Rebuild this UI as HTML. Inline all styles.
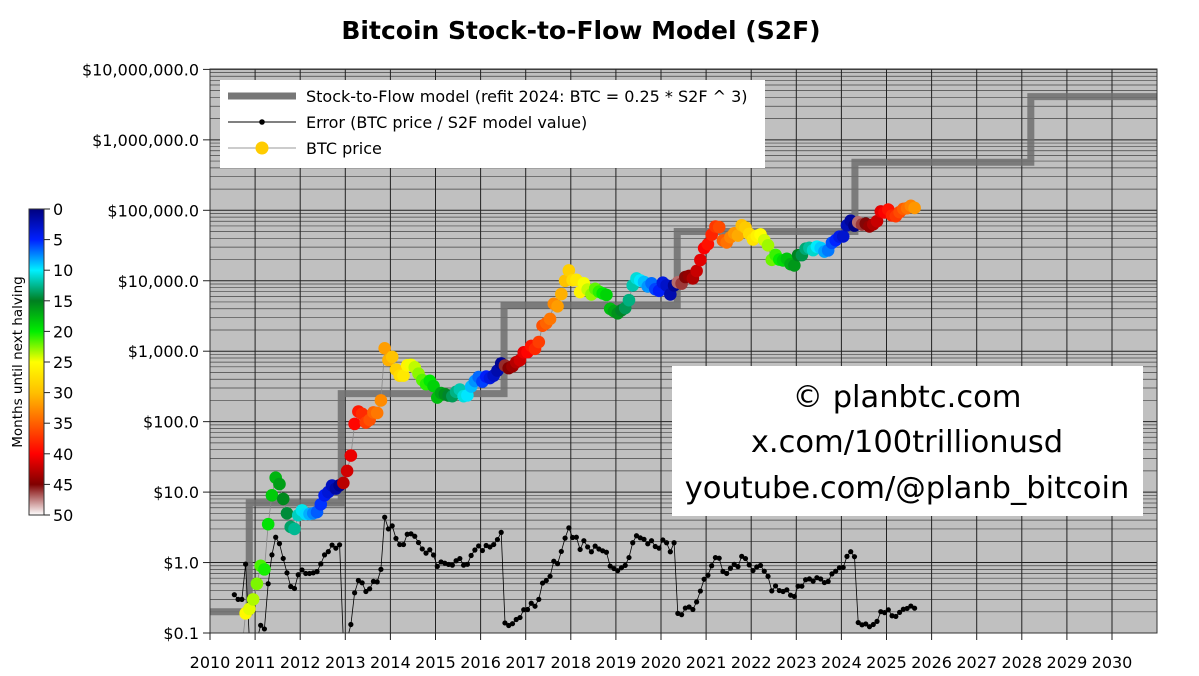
<!DOCTYPE html>
<html><head><meta charset="utf-8"><style>
html,body{margin:0;padding:0;background:#fff;}
svg{display:block;font-family:"DejaVu Sans","Liberation Sans",sans-serif;}
</style></head><body>
<svg id="s" width="1199" height="676" viewBox="0 0 1199 676" xmlns="http://www.w3.org/2000/svg">
<defs>
<linearGradient id="cb" x1="0" y1="0" x2="0" y2="1">
<stop offset="0" stop-color="#00007f"/>
<stop offset="0.1" stop-color="#0020ff"/>
<stop offset="0.2" stop-color="#00f0ff"/>
<stop offset="0.3" stop-color="#007f20"/>
<stop offset="0.4" stop-color="#00ee00"/>
<stop offset="0.5" stop-color="#ffff00"/>
<stop offset="0.6" stop-color="#ffc000"/>
<stop offset="0.7" stop-color="#ff6000"/>
<stop offset="0.8" stop-color="#ff0000"/>
<stop offset="0.9" stop-color="#800000"/>
<stop offset="1" stop-color="#ffffff"/>
</linearGradient>
</defs>
<text x="581" y="39" text-anchor="middle" font-size="25" font-weight="bold">Bitcoin Stock-to-Flow Model (S2F)</text>
<rect x="210" y="69" width="947" height="564" fill="#c0c0c0"/>
<g id="grid"></g>
<g id="model"></g>
<g id="data"></g>
<rect x="210" y="69" width="947" height="564" fill="none" stroke="#333" stroke-width="1"/>
<g id="axes" font-size="16"></g>
<rect x="220" y="80" width="545" height="88" fill="#fff"/>
<line x1="228" y1="96" x2="296" y2="96" stroke="#777" stroke-width="7"/>
<text x="306" y="102" font-size="16">Stock-to-Flow model (refit 2024:  BTC = 0.25 * S2F ^ 3)</text>
<line x1="228" y1="122" x2="296" y2="122" stroke="#000" stroke-width="1"/>
<circle cx="262" cy="122" r="2.8" fill="#000"/>
<text x="306" y="128" font-size="16">Error (BTC price / S2F model value)</text>
<line x1="228" y1="148" x2="296" y2="148" stroke="#999" stroke-width="1"/>
<circle cx="262" cy="148" r="6.5" fill="#ffcc00"/>
<text x="306" y="154" font-size="16">BTC price</text>
<rect x="672" y="366" width="471" height="150" fill="#fff"/>
<text x="907" y="407" text-anchor="middle" font-size="30.5">© planbtc.com</text>
<text x="907" y="452" text-anchor="middle" font-size="30.5">x.com/100trillionusd</text>
<text x="907" y="498" text-anchor="middle" font-size="30.5">youtube.com/@planb_bitcoin</text>
<rect x="29" y="209" width="15" height="306" fill="url(#cb)" stroke="#333" stroke-width="1"/>
<g id="cbt" font-size="16"></g>
<text transform="translate(22,362) rotate(-90)" text-anchor="middle" font-size="13.5">Months until next halving</text>
</svg>
<script>
var NS="http://www.w3.org/2000/svg";
function el(p,t,a,txt){var e=document.createElementNS(NS,t);for(var k in a)e.setAttribute(k,a[k]);if(txt!=null)e.textContent=txt;document.getElementById(p).appendChild(e);return e;}
function X(t){return 210+45.1*(t-2010);}
function Y(v){return 633-70.45*(Math.log10(v)+1);}
for(var d=-1;d<7;d++){for(var k=2;k<10;k++){var y=Y(k*Math.pow(10,d));el("grid","line",{x1:210,x2:1157,y1:y,y2:y,stroke:"#444","stroke-width":0.7});}}
for(var d=-1;d<=7;d++){var y=Y(Math.pow(10,d));el("grid","line",{x1:210,x2:1157,y1:y,y2:y,stroke:"#222","stroke-width":1});}
for(var yr=2010;yr<=2030;yr++){var x=X(yr);el("grid","line",{x1:x,x2:x,y1:69,y2:633,stroke:"#222","stroke-width":1});
el("axes","line",{x1:x,x2:x,y1:633,y2:640,stroke:"#222"});el("axes","text",{x:x,y:668,"text-anchor":"middle"},String(yr));}
var labs=["$0.1","$1.0","$10.0","$100.0","$1,000.0","$10,000.0","$100,000.0","$1,000,000.0","$10,000,000.0"];
for(var i=0;i<9;i++){var y=Y(Math.pow(10,i-1));el("axes","line",{x1:203,x2:210,y1:y,y2:y,stroke:"#222"});el("axes","text",{x:199,y:y+6,"text-anchor":"end"},labs[i]);}
for(var m=0;m<=50;m+=5){var y=209+306*m/50;el("cbt","line",{x1:44,x2:50,y1:y,y2:y,stroke:"#222"});el("cbt","text",{x:53,y:y+6},String(m));}
var steps=[[2010,0.2],[2010.87,7],[2012.91,250],[2016.52,4500],[2020.36,50000],[2024.3,480000],[2028.2,4100000],[2031,4100000]];
var d="M"+X(2010)+","+Y(0.2);
for(var i=1;i<steps.length;i++){d+=" L"+X(steps[i][0])+","+Y(steps[i-1][1]);if(i<steps.length-1)d+=" L"+X(steps[i][0])+","+Y(steps[i][1]);}
el("model","path",{d:d,fill:"none",stroke:"#6e6e6e","stroke-width":7,"stroke-opacity":0.85});
function model(t){var v=0.2;for(var i=0;i<steps.length-1;i++){if(t>=steps[i][0])v=steps[i][1];}return v;}
var P=[0.07,0.06,0.06,0.19,0.22,0.30,
0.5,0.9,0.8,3.5,9,16,13,8,5,3.2,3,4.7,
5.5,4.9,4.9,5,5.2,6.7,9,10,12.4,11.2,12.5,13.5,
20,33,93,139,129,97,106,135,133,200,1100,750,
830,550,450,450,630,640,590,480,390,340,380,320,
220,255,245,235,230,265,285,230,236,315,377,430,
370,437,416,450,530,670,625,575,610,700,745,963,
970,1190,1080,1350,2300,2500,2870,4700,4340,6470,10000,14000,
10200,10300,6900,9200,7500,6400,7700,7000,6600,6300,4000,3700,
3450,3800,4100,5300,8600,10800,10100,9600,8300,9200,7600,7200,
9400,8600,6400,8600,9500,9100,11300,11700,10800,13800,19700,29000,
33000,45000,58800,57700,37300,35000,41500,47100,43800,61300,57000,46300,
38500,43200,45500,37700,31800,19800,23300,20000,19400,20500,17200,16500,
23100,23100,28500,29300,27200,30500,29200,26000,27000,34500,37700,42300,
42600,61200,71300,60600,67500,62700,64600,59000,63300,70200,96400,93400,
102400,84400,82500,94200,104600,107100,115700,108000];
var halv=[2012.91,2016.52,2020.36,2024.3,2028.3];
var stops=[[0,[0,0,127]],[5,[0,32,255]],[10,[0,240,255]],[15,[0,127,32]],[20,[0,238,0]],[25,[255,255,0]],[30,[255,192,0]],[35,[255,96,0]],[40,[255,0,0]],[45,[128,0,0]],[50,[255,255,255]]];
function col(m){if(m>=50)return "rgb(255,255,255)";for(var i=0;i<stops.length-1;i++){if(m<=stops[i+1][0]){var f=(m-stops[i][0])/5,a=stops[i][1],b=stops[i+1][1];return "rgb("+[0,1,2].map(function(j){return Math.round(a[j]+(b[j]-a[j])*f);}).join(",")+")";}}return "#fff";}
var pts=[],ep=[];
for(var i=0;i<P.length;i++){var t=2010.5+i/12+0.04;pts.push([t,P[i]]);ep.push([t,P[i]/model(t)]);}
function clipY(v){return Math.min(Math.max(Y(v),60),640);}
var dp="",de="";
for(var i=0;i<pts.length;i++){dp+=(i?" L":"M")+X(pts[i][0]).toFixed(1)+","+Y(pts[i][1]).toFixed(1);de+=(i?" L":"M")+X(ep[i][0]).toFixed(1)+","+clipY(ep[i][1]).toFixed(1);}
var cp=document.createElementNS(NS,"clipPath");cp.setAttribute("id","pc");var r=document.createElementNS(NS,"rect");r.setAttribute("x",210);r.setAttribute("y",69);r.setAttribute("width",947);r.setAttribute("height",564);cp.appendChild(r);document.getElementById("s").appendChild(cp);
document.getElementById("data").setAttribute("clip-path","url(#pc)");
el("data","path",{d:de,fill:"none",stroke:"#000","stroke-width":0.8});
for(var i=0;i<ep.length;i++){if(ep[i][1]>0.09)el("data","circle",{cx:X(ep[i][0]),cy:Y(ep[i][1]),r:2.6,fill:"#000"});}
el("data","path",{d:dp,fill:"none",stroke:"#888","stroke-width":0.8});
for(var i=0;i<pts.length;i++){var t=pts[i][0],h=2040;for(var j=0;j<halv.length;j++){if(halv[j]>t){h=halv[j];break;}}var m=(h-t)*12;
if(pts[i][1]<0.15)continue;
el("data","circle",{cx:X(t),cy:Y(pts[i][1]),r:6.3,fill:col(m)});}
</script>
</body></html>
